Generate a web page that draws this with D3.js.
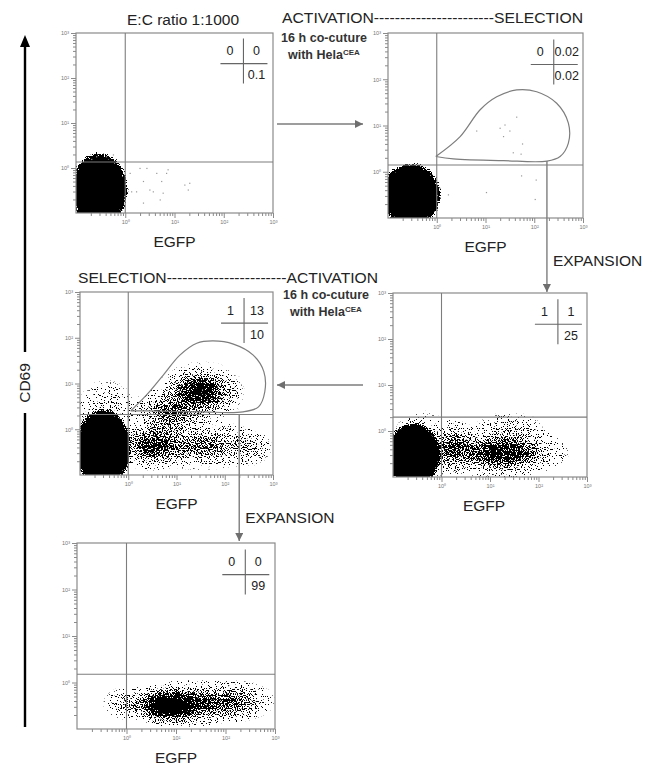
<!DOCTYPE html>
<html>
<head>
<meta charset="utf-8">
<title>CD69 vs EGFP</title>
<script src="https://d3js.org/d3.v7.min.js"></script>
<style>
  body { margin: 0; background: #fff; }
  svg text { font-family: Arial, "Liberation Sans", sans-serif; }
</style>
</head>
<body>
<svg id="fig" width="655" height="771"></svg>
<script>
// axis decades and labels (log scale, 10^-1 .. 10^3)
var decades = [1, 10, 100, 1000];
var decadeLabels = ["10\u2070", "10\u00b9", "10\u00b2", "10\u00b3"];

// quadrant percentages per panel: [upper-left, upper-right, lower-right]
var quadA = ["0", "0", "0.1"];
var quadB = ["0", "0.02", "0.02"];
var quadC = ["1", "13", "10"];
var quadD = ["1", "1", "25"];
var quadE = ["0", "0", "99"];

// quadrant thresholds (EGFP, CD69)
var cutX = [1, 1, 1, 1, 1];
var cutY = [1.36, 1.4, 2.1, 2.0, 1.5];

// cell populations, log10 units: [egfp, cd69, spread egfp, spread cd69, weight]
var cloudA = [[-0.53, -0.49, 0.6, 0.85, 10], [-0.5, -0.3, 0.75, 0.95, 0.1]];
var cloudB = [[-0.53, -0.5, 0.63, 0.7, 10], [-0.5, -0.4, 0.75, 0.8, 0.1]];
var cloudC = [[-0.52, -0.42, 0.6, 0.88, 10], [-0.45, 0.0, 0.85, 1.3, 0.38],
              [0.5, -0.35, 0.8, 0.6, 0.75], [1.5, -0.35, 1.45, 0.6, 0.55],
              [0.85, 0.35, 0.9, 0.6, 0.6], [1.5, 0.82, 0.85, 0.55, 0.9],
              [1.5, 0.8, 1.15, 0.85, 0.3], [2.5, -0.4, 0.6, 0.5, 0.3]];
var cloudD = [[-0.58, -0.52, 0.58, 0.72, 10], [-0.4, -0.35, 0.8, 0.95, 0.35],
              [1.2, -0.45, 1.55, 0.62, 0.7], [1.35, -0.5, 0.9, 0.4, 0.5],
              [1.4, 0.05, 1.0, 0.5, 0.2], [0.25, -0.35, 0.55, 0.65, 0.6]];
var cloudE = [[0.85, -0.5, 0.8, 0.45, 1.3], [1.3, -0.45, 1.5, 0.55, 0.7],
              [2.2, -0.4, 0.9, 0.5, 0.5], [0.0, -0.45, 0.6, 0.45, 0.3]];

// single events seen outside the main populations, log10 units
var eventsA = [[0.10, -0.12], [0.30, -0.01], [0.44, -0.01], [0.64, -0.12], [0.84, -0.12],
               [0.74, -0.30], [0.37, -0.30], [0.23, -0.53], [0.50, -0.49], [0.57, -0.53],
               [0.77, -0.56], [0.71, -0.71], [0.37, -0.78], [1.31, -0.34], [1.28, -0.49],
               [1.21, -0.38], [0.13, -0.53], [0.87, -0.04], [-0.58, 0.25], [-0.38, 0.25],
               [-0.24, 0.29], [-0.68, 0.19]];
var eventsB = [[1.64, 1.18], [1.30, 0.94], [1.40, 1.01], [1.50, 0.88], [1.37, 0.76],
               [0.82, 0.88], [1.76, 0.60], [1.57, 0.41], [1.73, 0.38], [1.74, -0.09],
               [2.04, -0.18], [2.02, -0.60], [1.02, -0.45], [0.24, -0.50], [0.07, -0.36]];

// sorting gates, log10 units
var gateB = [[-0.02, 0.33], [0.48, 0.76], [0.89, 1.34], [1.23, 1.62], [1.64, 1.77], [2.05, 1.73],
             [2.46, 1.48], [2.70, 1.05], [2.70, 0.62], [2.53, 0.33], [2.26, 0.23], [1.37, 0.24],
             [0.34, 0.28], [-0.02, 0.33]];
var gateC = [[0.05, 0.40], [0.38, 0.75], [0.73, 1.19], [1.07, 1.62], [1.42, 1.88], [1.76, 1.93],
             [2.18, 1.86], [2.59, 1.62], [2.81, 1.26], [2.83, 0.82], [2.70, 0.49], [2.38, 0.38],
             [1.49, 0.38], [0.45, 0.40], [0.05, 0.40]];

var quads = [quadA, quadB, quadC, quadD, quadE];
var clouds = [cloudA, cloudB, cloudC, cloudD, cloudE];
var events = [eventsA, eventsB, [], [], []];
var gates = [null, gateB, gateC, null, null];

// panel frames on the page
var panels = [
  {l: 76, t: 33, r: 273, b: 213},
  {l: 388, t: 33, r: 583, b: 218},
  {l: 80, t: 292, r: 273, b: 475},
  {l: 393, t: 293, r: 587, b: 477},
  {l: 77, t: 543, r: 275, b: 729}
];

var svg = d3.select("#fig");
var defs = svg.append("defs");
var grey = "#7d7d7d";

defs.append("marker").attr("id", "head").attr("viewBox", "0 0 10 10")
  .attr("refX", 10).attr("refY", 5).attr("markerWidth", 9).attr("markerHeight", 8)
  .attr("markerUnits", "userSpaceOnUse").attr("orient", "auto")
  .append("path").attr("d", "M0,0L10,5L0,10z").attr("fill", "#6f6f6f");

// dot texture: density thresholded against noise
var f = defs.append("filter").attr("id", "speckle").attr("filterUnits", "userSpaceOnUse")
  .attr("x", 0).attr("y", 0).attr("width", 655).attr("height", 771)
  .attr("color-interpolation-filters", "sRGB");
f.append("feTurbulence").attr("type", "fractalNoise").attr("baseFrequency", 0.85)
  .attr("numOctaves", 1).attr("seed", 7).attr("result", "noise");
f.append("feColorMatrix").attr("in", "noise").attr("type", "matrix")
  .attr("values", "0 0 0 0 0 0 0 0 0 0 0 0 0 0 0 1 0 0 0 0").attr("result", "n1");
f.append("feComponentTransfer").attr("in", "n1").attr("result", "n2")
  .append("feFuncA").attr("type", "linear").attr("slope", 3).attr("intercept", -1);
f.append("feComposite").attr("in", "SourceAlpha").attr("in2", "n2").attr("operator", "arithmetic")
  .attr("k1", 0).attr("k2", 1.15).attr("k3", -1).attr("k4", -0.045).attr("result", "diff");
f.append("feComponentTransfer").attr("in", "diff").attr("result", "mask")
  .append("feFuncA").attr("type", "linear").attr("slope", 25).attr("intercept", 0);
f.append("feFlood").attr("flood-color", "#000").attr("result", "ink");
f.append("feComposite").attr("in", "ink").attr("in2", "mask").attr("operator", "in");

var scales = [];

panels.forEach(function (p, pi) {
  var x = d3.scaleLog().domain([0.1, 1000]).range([p.l, p.r]);
  var y = d3.scaleLog().domain([0.1, 1000]).range([p.b, p.t]);
  scales.push({x: x, y: y});
  var g = svg.append("g");

  defs.append("clipPath").attr("id", "clip" + pi).append("rect")
    .attr("x", p.l).attr("y", p.t).attr("width", p.r - p.l).attr("height", p.b - p.t);

  var cloud = g.append("g").attr("clip-path", "url(#clip" + pi + ")")
    .append("g").attr("filter", "url(#speckle)");
  clouds[pi].forEach(function (c, ci) {
    var id = "pop" + pi + "_" + ci;
    var grad = defs.append("radialGradient").attr("id", id);
    d3.range(11).forEach(function (k) {
      var t = k / 10;
      grad.append("stop").attr("offset", t).attr("stop-color", "#000")
        .attr("stop-opacity", k == 10 ? 0 : Math.min(1, c[4] * Math.exp(-3 * t * t)));
    });
    var cx = x(Math.pow(10, c[0])), cy = y(Math.pow(10, c[1]));
    cloud.append("ellipse")
      .attr("cx", cx).attr("cy", cy)
      .attr("rx", x(Math.pow(10, c[0] + c[2])) - cx)
      .attr("ry", cy - y(Math.pow(10, c[1] + c[3])))
      .attr("fill", "url(#" + id + ")");
  });

  g.append("g").selectAll("rect").data(events[pi]).enter().append("rect")
    .attr("x", d => x(Math.pow(10, d[0])) - 0.6)
    .attr("y", d => y(Math.pow(10, d[1])) - 0.6)
    .attr("width", 1.2).attr("height", 1.2).attr("fill", "#999");

  // frame
  g.append("rect").attr("x", p.l).attr("y", p.t).attr("width", p.r - p.l).attr("height", p.b - p.t)
    .attr("fill", "none").attr("stroke", "#8a8a8a").attr("stroke-width", 1.2);

  // log axes: minor and major ticks
  var minor = [];
  [0.1, 1, 10, 100].forEach(function (d) { d3.range(2, 10).forEach(function (k) { minor.push(d * k); }); });
  [["bottom", d3.axisBottom(x), "translate(0," + p.b + ")"],
   ["left", d3.axisLeft(y), "translate(" + p.l + ",0)"]].forEach(function (a) {
    var ax = g.append("g").attr("transform", a[2]);
    ax.call(a[1].tickValues(minor).tickSize(3).tickFormat(""));
    ax.select(".domain").remove();
    var ax2 = g.append("g").attr("transform", a[2]);
    var base = a[0] == "bottom" ? d3.axisBottom(x) : d3.axisLeft(y);
    ax2.call(base.tickValues(decades).tickSize(5).tickPadding(2)
      .tickFormat((d, i) => decadeLabels[i]));
    ax2.select(".domain").remove();
    ax.selectAll("line").attr("stroke", "#8a8a8a");
    ax2.selectAll("line").attr("stroke", "#8a8a8a");
    ax2.selectAll("text").attr("font-size", 5.5).attr("fill", "#777");
  });

  // quadrant lines
  g.append("line").attr("x1", x(cutX[pi])).attr("x2", x(cutX[pi])).attr("y1", p.t).attr("y2", p.b)
    .attr("stroke", grey).attr("stroke-width", 1.1);
  g.append("line").attr("x1", p.l).attr("x2", p.r).attr("y1", y(cutY[pi])).attr("y2", y(cutY[pi]))
    .attr("stroke", grey).attr("stroke-width", 1.1);

  // gate
  if (gates[pi]) {
    var line = d3.line().curve(d3.curveCatmullRom.alpha(0.5))
      .x(d => x(Math.pow(10, d[0]))).y(d => y(Math.pow(10, d[1])));
    g.append("path").attr("d", line(gates[pi])).attr("fill", "none")
      .attr("stroke", grey).attr("stroke-width", 1.2);
  }

  // quadrant statistics box
  var qx = p.l + 0.85 * (p.r - p.l), qy = p.t + 0.17 * (p.b - p.t);
  g.append("line").attr("x1", qx - 23).attr("x2", qx + 24).attr("y1", qy).attr("y2", qy)
    .attr("stroke", "#666").attr("stroke-width", 1.1);
  g.append("line").attr("x1", qx).attr("x2", qx).attr("y1", qy - 25).attr("y2", qy + 20)
    .attr("stroke", "#666").attr("stroke-width", 1.1);
  var q = quads[pi];
  [[q[0], qx - 13.5, qy - 8.5], [q[1], qx + 13, qy - 8.5], [q[2], qx + 13, qy + 15.5]].forEach(function (t) {
    g.append("text").attr("x", t[1]).attr("y", t[2]).attr("text-anchor", "middle")
      .attr("font-size", 12.5).attr("fill", "#222").text(t[0]);
  });

  // x axis title
  g.append("text").attr("x", (p.l + p.r) / 2 - (pi == 3 ? 6 : 0)).attr("y", p.b + 34)
    .attr("text-anchor", "middle").attr("font-size", 15.5).attr("fill", "#222").text("EGFP");
});

// titles
svg.append("text").attr("x", 183).attr("y", 25).attr("text-anchor", "middle")
  .attr("font-size", 15.5).attr("fill", "#222").text("E:C ratio 1:1000");
svg.append("text").attr("x", 282).attr("y", 23).attr("font-size", 15.5).attr("fill", "#222")
  .attr("textLength", 301).attr("lengthAdjust", "spacingAndGlyphs")
  .text("ACTIVATION-----------------------SELECTION");
svg.append("text").attr("x", 78).attr("y", 283).attr("font-size", 15.5).attr("fill", "#222")
  .attr("textLength", 300).attr("lengthAdjust", "spacingAndGlyphs")
  .text("SELECTION-----------------------ACTIVATION");

function coculture(x0, y0) {
  svg.append("text").attr("x", x0).attr("y", y0).attr("font-size", 12.5).attr("fill", "#333")
    .attr("font-weight", "bold").attr("textLength", 86).text("16 h co-cuture");
  var t = svg.append("text").attr("x", x0 + 7).attr("y", y0 + 17).attr("font-size", 12.5)
    .attr("fill", "#333").attr("font-weight", "bold");
  t.append("tspan").text("with Hela");
  t.append("tspan").attr("dy", -4).attr("font-size", 8).text("CEA");
}
coculture(281, 42);
coculture(283, 299);

// connecting arrows
var sB = scales[1], sC = scales[2];
svg.append("line").attr("x1", panels[0].r + 4).attr("x2", panels[1].l - 25)
  .attr("y1", 124).attr("y2", 124).attr("stroke", grey).attr("stroke-width", 1.4)
  .attr("marker-end", "url(#head)");
svg.append("line").attr("x1", panels[3].l - 30).attr("x2", panels[2].r + 4)
  .attr("y1", 385).attr("y2", 385).attr("stroke", grey).attr("stroke-width", 1.4)
  .attr("marker-end", "url(#head)");
var exB = sB.x(Math.pow(10, 2.26));
svg.append("line").attr("x1", exB).attr("x2", exB).attr("y1", 161).attr("y2", panels[3].t - 1)
  .attr("stroke", grey).attr("stroke-width", 1.4).attr("marker-end", "url(#head)");
var exC = sC.x(Math.pow(10, 2.3));
svg.append("line").attr("x1", exC).attr("x2", exC).attr("y1", sC.y(cutY[2])).attr("y2", panels[4].t - 2)
  .attr("stroke", grey).attr("stroke-width", 1.4).attr("marker-end", "url(#head)");
svg.append("text").attr("x", exB + 6).attr("y", 266).attr("font-size", 15.5).attr("fill", "#222")
  .text("EXPANSION");
svg.append("text").attr("x", exC + 6).attr("y", 523).attr("font-size", 15.5).attr("fill", "#222")
  .text("EXPANSION");

// CD69 axis arrow
svg.append("line").attr("x1", 25).attr("x2", 25).attr("y1", 44).attr("y2", 352)
  .attr("stroke", "#000").attr("stroke-width", 2.4);
svg.append("line").attr("x1", 25).attr("x2", 25).attr("y1", 413).attr("y2", 727)
  .attr("stroke", "#000").attr("stroke-width", 2.4);
svg.append("path").attr("d", "M25,35L30,47L20,47Z").attr("fill", "#000");
svg.append("text").attr("transform", "translate(30,383) rotate(-90)").attr("text-anchor", "middle")
  .attr("font-size", 15.5).attr("fill", "#222").text("CD69");
</script>
</body>
</html>
